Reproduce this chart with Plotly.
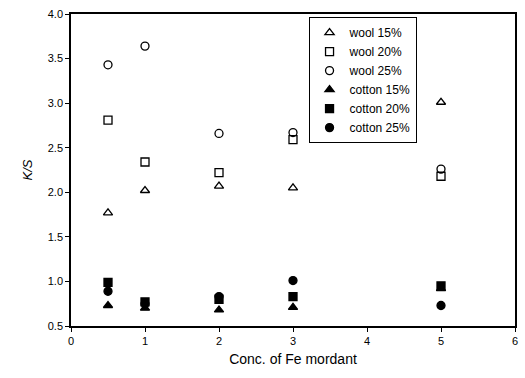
import plotly.graph_objects as go

# Fe mordant concentrations (x) and K/S values for each fibre / dye level
conc = [0.5, 1, 2, 3, 5]
wool_15 = [1.77, 2.02, 2.07, 2.05, 3.01]
wool_20 = [2.81, 2.34, 2.22, 2.59, 2.18]
wool_25 = [3.43, 3.64, 2.66, 2.67, 2.26]
cotton_15 = [0.73, 0.70, 0.68, 0.71, 0.92]
cotton_20 = [0.99, 0.77, 0.80, 0.83, 0.95]
cotton_25 = [0.89, 0.75, 0.83, 1.01, 0.73]

series = [
    ("wool 15%", wool_15, "triangle-up-open"),
    ("wool 20%", wool_20, "square-open"),
    ("wool 25%", wool_25, "circle-open"),
    ("cotton 15%", cotton_15, "triangle-up"),
    ("cotton 20%", cotton_20, "square"),
    ("cotton 25%", cotton_25, "circle"),
]

fig = go.Figure()
for name, vals, sym in series:
    fig.add_trace(go.Scatter(
        x=conc, y=vals, mode="markers", name=name,
        marker=dict(symbol=sym, size=8, color="black",
                    line=dict(color="black", width=1.3)),
    ))

font_family = "Liberation Sans, Arial, sans-serif"
fig.update_layout(
    width=525, height=378,
    margin=dict(l=71, r=7, t=14, b=52),
    paper_bgcolor="white", plot_bgcolor="white",
    font=dict(family=font_family, color="black", size=11),
    showlegend=True,
    legend=dict(
        x=0.535, y=0.99, xanchor="left", yanchor="top",
        bordercolor="black", borderwidth=1, bgcolor="white",
        font=dict(size=12), tracegroupgap=0, itemsizing="trace",
        itemwidth=30,
    ),
    xaxis=dict(
        range=[0, 6], tickvals=[0, 1, 2, 3, 4, 5, 6],
        showgrid=False, zeroline=False,
        showline=True, linecolor="black", linewidth=1.5, mirror=True,
        ticks="outside", ticklen=4, tickcolor="black",
        tickfont=dict(size=11),
        title=dict(text="Conc. of Fe mordant", font=dict(size=14), standoff=8),
    ),
    yaxis=dict(
        range=[0.5, 4.0], tickvals=[0.5, 1.0, 1.5, 2.0, 2.5, 3.0, 3.5, 4.0],
        tickformat=".1f",
        showgrid=False, zeroline=False,
        showline=True, linecolor="black", linewidth=1.5, mirror=True,
        ticks="outside", ticklen=4, tickcolor="black",
        tickfont=dict(size=11),
        title=dict(text="<i>K/S</i>", font=dict(size=13), standoff=12),
    ),
)

fig.write_html("out.html")
